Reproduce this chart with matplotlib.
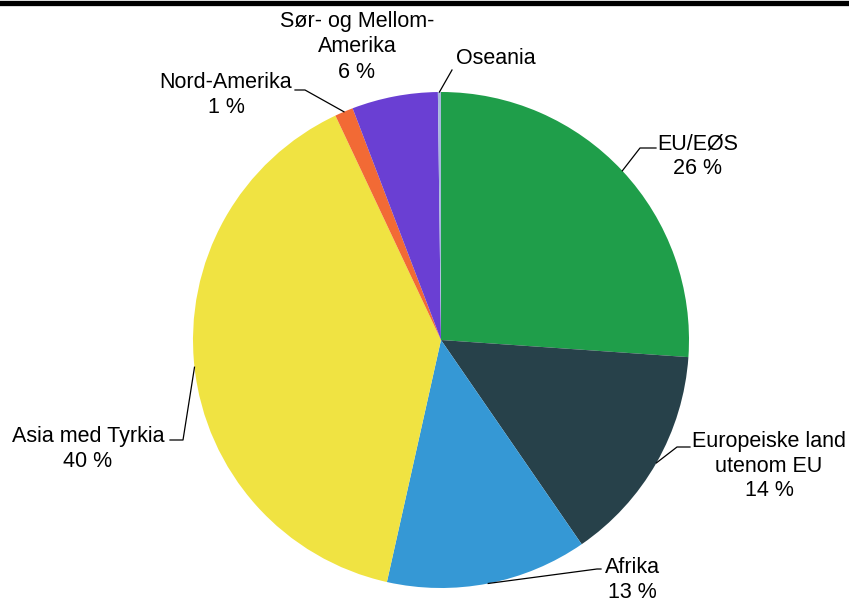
import numpy as np
import matplotlib.pyplot as plt

plt.rcParams['font.family'] = ['Liberation Sans', 'DejaVu Sans']

# data
regions = ["EU/EØS", "Europeiske land\nutenom EU", "Afrika", "Asia med Tyrkia",
           "Nord-Amerika", "Sør- og Mellom-\nAmerika", "Oseania"]
shares = [26.1, 14.3, 13.1, 39.5, 1.2, 5.6, 0.2]
pct_labels = ["26 %", "14 %", "13 %", "40 %", "1 %", "6 %", ""]
colors = ["#1f9e4a", "#27414a", "#3598d5", "#f0e342", "#f26a35", "#6a3fd3", "#a7b9dc"]

W, H = 849, 603
fig = plt.figure(figsize=(W / 100, H / 100), dpi=100)
ax = fig.add_axes([0, 0, 1, 1])

cx, cy, r = 441, H - 340, 248
wedges, _ = ax.pie(shares, colors=colors, startangle=90, counterclock=False,
                   center=(cx, cy), radius=r, frame=True,
                   wedgeprops=dict(linewidth=0))
ax.set_xlim(0, W)
ax.set_ylim(0, H)
ax.axis("off")

# label positions (pixel coords, y from top), leader elbows
text_pos = [(698, 156), (769, 466), (632, 580), (88, 449), (226, 95), (357, 47), (496, 58)]
leaders = [
    [(640, 148), (656, 148)],
    [(677, 447), (690, 447)],
    [(597, 569), (601, 569)],
    [(183, 440), (170, 440)],
    [(305, 90), (295, 90)],
    None,
    [(452, 70)],
]

for w, name, pct, (tx, ty), ld in zip(wedges, regions, pct_labels, text_pos, leaders):
    label = name if pct == "" else f"{name}\n{pct}"
    ax.text(tx, H - ty, label, ha="center", va="center", fontsize=15.5,
            linespacing=1.25, color="black")
    if ld is not None:
        mid = np.deg2rad((w.theta1 + w.theta2) / 2)
        ex, ey = cx + r * np.cos(mid), cy + r * np.sin(mid)
        xs = [ex] + [p[0] for p in ld]
        ys = [ey] + [H - p[1] for p in ld]
        ax.plot(xs, ys, color="black", linewidth=0.9)

# top rule
ax.plot([0, W], [H - 2.5, H - 2.5], color="black", linewidth=3.8, clip_on=False)

plt.savefig("out.png", dpi=100)
